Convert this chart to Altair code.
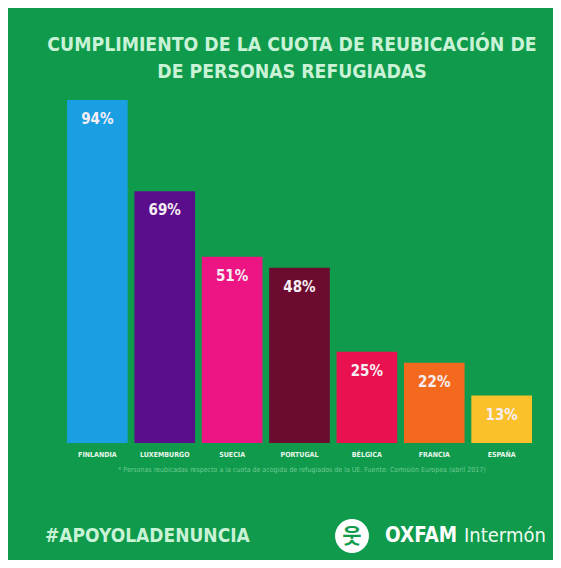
import altair as alt
import pandas as pd

countries = ["FINLANDIA", "LUXEMBURGO", "SUECIA", "PORTUGAL", "BÉLGICA", "FRANCIA", "ESPAÑA"]
values = [94, 69, 51, 48, 25, 22, 13]
colors = ["#1b9fe3", "#5b0e8c", "#ec1583", "#6d0a30", "#ea1150", "#f36a1f", "#fac12a"]

title_lines = ["CUMPLIMIENTO DE LA CUOTA DE REUBICACIÓN DE", "DE PERSONAS REFUGIADAS"]
footnote = "* Personas reubicadas respecto a la cuota de acogida de refugiados de la UE. Fuente: Comisión Europea (abril 2017)"
hashtag = "#APOYOLADENUNCIA"

BG = "#0f9a4c"
MINT = "#c9f2d6"
FONT = "DejaVu Sans Condensed"

df = pd.DataFrame({
    "pais": countries,
    "valor": values,
    "etiqueta": [f"{v}%" for v in values],
})

W, H = 469, 365

x = alt.X(
    "pais:N", sort=countries,
    scale=alt.Scale(paddingInner=0.1, paddingOuter=0.03),
    axis=alt.Axis(title=None, domain=False, ticks=False, labelAngle=0,
                  labelColor="#e8f7ec", labelFontSize=7, labelFont=FONT,
                  labelFontWeight="bold", labelPadding=7),
)
y = alt.Y("valor:Q", scale=alt.Scale(domain=[0, 100]), axis=None)

base = alt.Chart(df)
bars = base.mark_bar().encode(
    x=x, y=y,
    color=alt.Color("pais:N", scale=alt.Scale(domain=countries, range=colors), legend=None),
)
labels = base.mark_text(baseline="top", dy=12, fontSize=15, fontWeight="bold",
                        color="#f6eef3", font=FONT).encode(x=x, y=y, text="etiqueta")

def txt(text, px, py, **kw):
    return alt.Chart(df.head(1)).mark_text(text=text, **kw).encode(
        x=alt.value(px), y=alt.value(py))

t1 = txt(title_lines[0], 227, -33, fontSize=19.3, fontWeight="bold", font=FONT, color=MINT, align="center")
t2 = txt(title_lines[1], 227, -6, fontSize=19.3, fontWeight="bold", font=FONT, color=MINT, align="center")
fn = txt(footnote, 237, 392, fontSize=7, font=FONT, color="#6fcb93", align="center")
ht = txt(hashtag, -20, 458, fontSize=19, fontWeight="bold", font=FONT, color=MINT, align="left")
logo = alt.Chart(df.head(1)).mark_point(shape="circle", filled=True, color="white", opacity=1, size=1150).encode(
    x=alt.value(287), y=alt.value(458))
logo_fig = txt("웃", 287, 459, fontSize=21, fontWeight="bold", font="Noto Sans CJK KR", color=BG, align="center")
ox = txt("OXFAM", 320, 458, fontSize=20.5, fontWeight="bold", font=FONT, color="white", align="left")
im = txt("Intermón", 399, 458, fontSize=20, font=FONT, color="#eefaf1", align="left")

chart = alt.layer(bars, labels, t1, t2, fn, ht, logo, logo_fig, ox, im).properties(
    width=W, height=H,
    autosize=alt.AutoSizeParams(type="none"),
    padding={"left": 57, "top": 70, "right": 19, "bottom": 117},
    background=BG,
).configure_view(stroke=None)

chart.save("out.html", embed_options={"renderer": "svg", "actions": False})
